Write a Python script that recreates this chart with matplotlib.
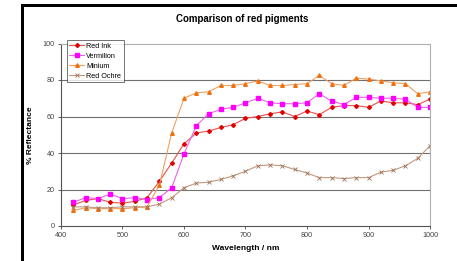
import matplotlib
matplotlib.use("Agg")
import matplotlib.pyplot as plt
from matplotlib.patches import Rectangle

plt.rcParams['font.family'] = ['Liberation Sans', 'DejaVu Sans']

wavelength = list(range(420, 1001, 20))
red_ink = [11.5, 14, 15, 13, 12.5, 13.5, 15.5, 24.5, 34.5, 45, 51, 52, 54, 55.5, 59, 60,
           61.5, 62.5, 60, 63, 61, 65, 66, 66, 65, 68.5, 67.5, 67.5, 66.5, 69.5]
vermilion = [13, 15.5, 15, 17.5, 15, 15.5, 14.5, 15.5, 21, 39.5, 55, 61.5, 64, 65, 67.5, 70,
             67.5, 67, 67, 67.5, 72.5, 68.5, 66.5, 70.5, 70.5, 70, 70, 69.5, 65, 65]
minium = [8.5, 10, 9.5, 9.5, 9.5, 10, 10.5, 22.5, 51, 70, 73, 73.5, 77, 77, 78, 79.5,
          77, 77, 77.5, 78, 82.5, 78, 77, 81, 80.5, 79.5, 78.5, 78, 72.5, 73.5]
red_ochre = [10.5, 10.5, 10, 10, 10.5, 10.5, 10.5, 12, 15.5, 21, 23.5, 24, 25.5, 27.5, 30, 33,
             33.5, 33, 31, 29, 26.5, 26.5, 26, 26.5, 26.5, 29.5, 30.5, 33, 37, 44]
series_names = ["Red Ink", "Vermilion", "Minium", "Red Ochre"]
xticks = [400, 500, 600, 700, 800, 900, 1000]
yticks = [0, 20, 40, 60, 80, 100]

fig = plt.figure(figsize=(4.57, 2.61), dpi=100)
ax = fig.add_axes([61/457, 1-226/261, (430-61)/457, (226-43.5)/261])

styles = [
    dict(color="#e85050", marker="D", markersize=2.0, mfc="#e00000", mec="#e00000"),
    dict(color="#f060f0", marker="s", markersize=2.3, mfc="#ff00ff", mec="#ff00ff"),
    dict(color="#f0a060", marker="^", markersize=2.6, mfc="#f07010", mec="#f07010"),
    dict(color="#c09a80", marker="x", markersize=2.3, mfc="#a07050", mec="#a07050", mew=0.6),
]
for data, name, st in zip([red_ink, vermilion, minium, red_ochre], series_names, styles):
    ax.plot(wavelength, data, lw=0.8, label=name, **st)

ax.set_xlim(400, 1000)
ax.set_ylim(0, 100)
ax.set_xticks(xticks)
ax.set_yticks(yticks)
for y in yticks[1:-1]:
    ax.axhline(y, color="#707070", lw=0.8, zorder=0)
ax.tick_params(labelsize=5.2, length=2, width=0.6, colors="#444444", pad=2.5)
ax.spines["left"].set_color("#555555")
ax.spines["bottom"].set_color("#555555")
ax.spines["top"].set_color("#b0b0b0")
ax.spines["right"].set_color("#b0b0b0")
for s in ax.spines.values():
    s.set_linewidth(0.8)

ax.set_xlabel("Wavelength / nm", fontsize=6, fontweight="bold", labelpad=4)
ax.set_ylabel("% Reflectance", fontsize=6, fontweight="bold", labelpad=6)
fig.text(242/457, 1-19/261, "Comparison of red pigments", fontsize=7, fontweight="bold",
         ha="center", va="center")

leg = ax.legend(loc="upper left", bbox_to_anchor=(5.5/369, 1.017), fontsize=5.2,
                frameon=True, fancybox=False, edgecolor="#333333", borderpad=0.35,
                labelspacing=0.4, handlelength=2.1, handletextpad=0.3, borderaxespad=0)
leg.get_frame().set_linewidth(0.6)

# outer black frame (top and left edges)
fig.add_artist(Rectangle((21/457, 0), 3/457, 1-4/261, transform=fig.transFigure,
                         color="black", lw=0))
fig.add_artist(Rectangle((21/457, 1-7/261), 1-21/457, 3/261, transform=fig.transFigure,
                         color="black", lw=0))

fig.savefig("out.png", dpi=100)
